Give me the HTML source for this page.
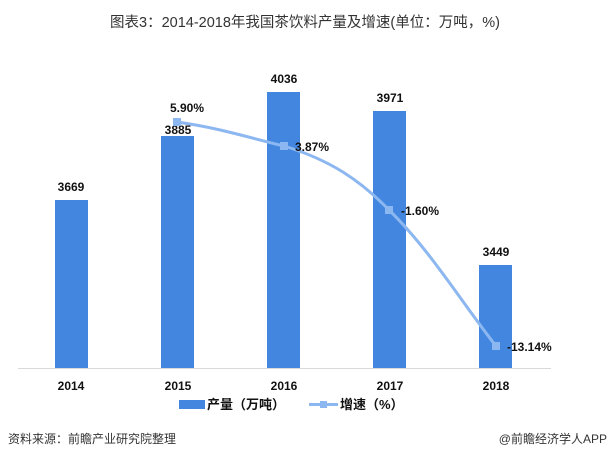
<!DOCTYPE html>
<html><head><meta charset="utf-8"><style>
body{margin:0;background:#fff;width:609px;height:462px;overflow:hidden;font-family:"Liberation Sans","Noto Sans CJK SC",sans-serif;}
</style></head><body>
<svg width="609" height="462" xmlns="http://www.w3.org/2000/svg" style="display:block">
<text x="305" y="27" text-anchor="middle" font-size="14.5" fill="#333" font-family="Liberation Sans, Noto Sans CJK SC, sans-serif">图表3：2014-2018年我国茶饮料产量及增速(单位：万吨，%)</text>
<g fill="#4286e0">
<rect x="55" y="200" width="33" height="168"/>
<rect x="161" y="136" width="33" height="232"/>
<rect x="267" y="92" width="33" height="276"/>
<rect x="373" y="111" width="33" height="257"/>
<rect x="479" y="265" width="33" height="103"/>
</g>
<line x1="18" y1="368.5" x2="551" y2="368.5" stroke="#d9d9d9" stroke-width="1"/>
<g font-size="12" font-weight="bold" fill="#111" text-anchor="middle">
<text x="71" y="191">3669</text>
<text x="178" y="134">3885</text>
<text x="284" y="83">4036</text>
<text x="390" y="102">3971</text>
<text x="496" y="256">3449</text>
<text x="71" y="390">2014</text>
<text x="178" y="390">2015</text>
<text x="284" y="390">2016</text>
<text x="390" y="390">2017</text>
<text x="496" y="390">2018</text>
</g>
<path d="M177,122 C220,128 250,138 284,146 C330,160 360,180 389,210 C430,250 460,300 496,346" fill="none" stroke="#8cb7f0" stroke-width="3"/>
<g fill="#8cb7f0">
<rect x="173" y="118" width="8" height="8"/>
<rect x="280" y="142" width="8" height="8"/>
<rect x="385" y="206" width="8" height="8"/>
<rect x="492" y="342" width="8" height="8"/>
</g>
<g font-size="12" font-weight="bold" fill="#111">
<text x="170" y="112">5.90%</text>
<text x="295" y="151">3.87%</text>
<text x="401" y="215">-1.60%</text>
<text x="507" y="351">-13.14%</text>
</g>
<rect x="179" y="400" width="26" height="9" fill="#4286e0"/>
<text x="207" y="409" font-size="13" font-weight="bold" fill="#111">产量（万吨）</text>
<line x1="309" y1="404.5" x2="338" y2="404.5" stroke="#8cb7f0" stroke-width="3"/>
<rect x="320" y="401" width="7" height="7" fill="#8cb7f0"/>
<text x="340" y="409" font-size="13" font-weight="bold" fill="#111">增速（%）</text>
<text x="8" y="443" font-size="12" fill="#333">资料来源：前瞻产业研究院整理</text>
<text x="607" y="443" font-size="12" fill="#333" text-anchor="end">@前瞻经济学人APP</text>
</svg>
</body></html>
